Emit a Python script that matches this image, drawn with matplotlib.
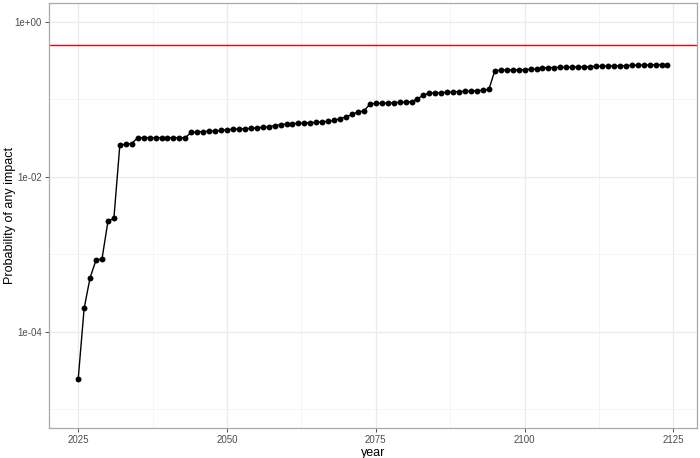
import numpy as np
import matplotlib
matplotlib.use("Agg")
import matplotlib.pyplot as plt
from matplotlib.ticker import FixedLocator, NullFormatter

# ===============================
#   DATA
# ===============================
years = list(range(2025, 2125))

prob = [
    2.42e-5, 2.00e-4, 4.97e-4, 8.41e-4, 8.67e-4, 2.66e-3, 2.91e-3,
    0.0258, 0.0263, 0.0269,
    0.0320, 0.0320, 0.0320, 0.0320, 0.0320, 0.0320, 0.0320, 0.0320, 0.0320,
    0.0376, 0.0379, 0.0383, 0.0387, 0.0391, 0.0397, 0.0406, 0.0411, 0.0415,
    0.0418, 0.0423, 0.0427, 0.0436, 0.0444, 0.0457, 0.0471, 0.0481, 0.0485,
    0.0491, 0.0495, 0.0500, 0.0506, 0.0511, 0.0521, 0.0537, 0.0563, 0.0593,
    0.0638, 0.0687, 0.0708,
    0.0865, 0.0891, 0.0891, 0.0898, 0.0906, 0.0918, 0.0925, 0.0933,
    0.101, 0.114, 0.120, 0.121, 0.122, 0.124, 0.125, 0.126, 0.127, 0.128,
    0.130, 0.131, 0.135,
    0.235, 0.238, 0.240, 0.240, 0.242, 0.242, 0.245, 0.247, 0.255, 0.257,
    0.257, 0.260, 0.260, 0.262, 0.262, 0.264, 0.264, 0.268, 0.268, 0.270,
    0.270, 0.272, 0.272, 0.276, 0.276, 0.278, 0.278, 0.281, 0.281, 0.281,
]

threshold = 0.5

y_major = [1e-4, 1e-2, 1e0]
y_major_labels = ["1e-04", "1e-02", "1e+00"]
y_minor = [1e-5, 1e-3, 1e-1]
x_major = [2025, 2050, 2075, 2100, 2125]
x_minor = [2037.5, 2062.5, 2087.5, 2112.5]

# ===============================
#   PLOT
# ===============================
plt.rcParams["font.family"] = ["Liberation Sans", "DejaVu Sans"]

fig = plt.figure(figsize=(7, 4.58), dpi=100)
ax = fig.add_axes([0.0696, 0.0655, 0.926, 0.928])

ax.plot(years, prob, color="black", linewidth=1.0, zorder=3)
ax.scatter(years, prob, color="black", s=18, zorder=4, linewidths=0)
ax.axhline(threshold, color="red", linewidth=1.0, zorder=2)

ax.set_yscale("log")
ax.set_ylim(10 ** -5.245, 10 ** 0.245)
ax.set_xlim(2020.05, 2128.95)

ax.yaxis.set_major_locator(FixedLocator(y_major))
ax.set_yticklabels(y_major_labels)
ax.yaxis.set_minor_locator(FixedLocator(y_minor))
ax.yaxis.set_minor_formatter(NullFormatter())
ax.set_xticks(x_major)
ax.set_xticks(x_minor, minor=True)

ax.grid(which="major", color="#ebebeb", linewidth=0.9, zorder=0)
ax.grid(which="minor", color="#f2f2f2", linewidth=0.5, zorder=0)
ax.set_axisbelow(True)

for s in ax.spines.values():
    s.set_color("#a8a8a8")
    s.set_linewidth(0.9)

ax.tick_params(which="major", length=3, width=0.6, color="#333333",
               labelcolor="#4d4d4d", labelsize=7, pad=2)
ax.tick_params(which="minor", length=0)

ax.set_xlabel("year", fontsize=9)
ax.set_ylabel("Probability of any impact", fontsize=9)
ax.yaxis.set_label_coords(-0.050, 0.5)
ax.xaxis.set_label_coords(0.5, -0.044)

fig.savefig("out.png", dpi=100)
plt.close(fig)
